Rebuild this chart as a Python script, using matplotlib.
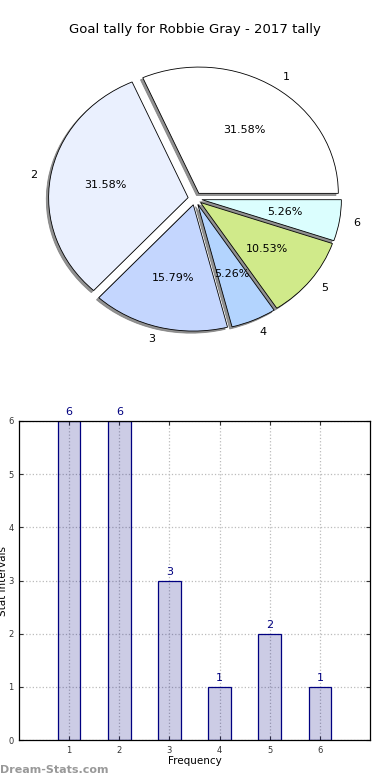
import matplotlib
matplotlib.use("Agg")
import matplotlib.pyplot as plt
from matplotlib.patches import Shadow

categories = ["1", "2", "3", "4", "5", "6"]
values = [6, 6, 3, 1, 2, 1]
pie_colors = ["#ffffff", "#eaf0fe", "#c4d6fe", "#b3d4fe", "#d0ea8a", "#dbfefe"]
title = "Goal tally for Robbie Gray - 2017 tally"

fig = plt.figure(figsize=(3.9, 7.8), dpi=100)

# Pie
axp = fig.add_axes([27.6 / 390, 1 - 350.2 / 780, 334.8 / 390, 303.1 / 780])
wedges, texts, autotexts = axp.pie(
    values, labels=categories, colors=pie_colors, explode=[0.05] * len(values),
    startangle=0, counterclock=True, autopct="%1.2f%%", shadow=False,
    wedgeprops=dict(edgecolor="black", linewidth=0.6),
    textprops=dict(fontsize=8))
for w in wedges:
    sh = Shadow(w, -0.012, -0.012, facecolor="#777777", edgecolor="#777777",
                alpha=0.8, zorder=w.get_zorder() - 0.1)
    axp.add_patch(sh)
axp.set_aspect("auto")
axp.set_xlim(-1.2, 1.2)
axp.set_ylim(-1.2, 1.2)
fig.text(0.5, 1 - 30 / 780, title, ha="center", va="center", fontsize=9.5)

# Bar
axb = fig.add_axes([19 / 390, 1 - 740 / 780, 351 / 390, 319 / 780])
xs = list(range(1, len(values) + 1))
axb.bar(xs, values, width=0.45, color=(0, 0, 0.5, 0.2), edgecolor="navy",
        linewidth=0.9, zorder=2)
for x, v in zip(xs, values):
    axb.text(x, v + 0.07, str(v), ha="center", va="bottom", fontsize=8,
             color="navy")
axb.set_xlim(0, 7)
axb.set_ylim(0, 6)
axb.set_xticks(xs)
axb.set_xticklabels(categories)
axb.set_yticks(range(0, 7))
axb.tick_params(labelsize=6, direction="in", top=True, right=True, length=3,
                pad=4, colors="#333333")
axb.grid(True, linestyle=":", color="#bbbbbb", linewidth=0.9, zorder=0)
axb.set_axisbelow(True)
axb.set_xlabel("Frequency", fontsize=7.5, labelpad=1)
axb.set_ylabel("Stat intervals", fontsize=7.5)
axb.yaxis.set_label_coords(-0.031, 0.5)
for s in axb.spines.values():
    s.set_linewidth(0.9)

fig.text(0.0, 1 - 770 / 780, "Dream-Stats.com", ha="left", va="center",
         fontsize=8, color="#999999", fontweight="bold")

fig.savefig("out.png", dpi=100)
